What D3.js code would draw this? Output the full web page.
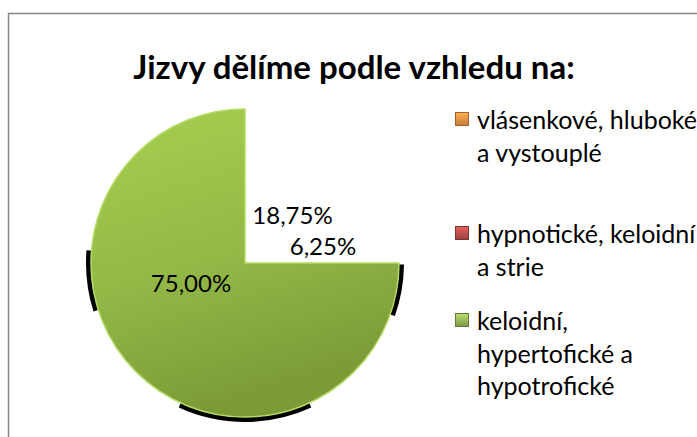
<!DOCTYPE html>
<html>
<head>
<meta charset="utf-8">
<script src="https://cdn.jsdelivr.net/npm/d3@7"></script>
<style>
  body { margin: 0; background: #fff; }
  svg { display: block; font-family: Lato, "Open Sans", sans-serif; }
</style>
</head>
<body>
<div id="chart"></div>
<script>
// data
const title = 'Jizvy dělíme podle vzhledu na:';
const categories = ['vlásenkové, hluboké a vystouplé', 'hypnotické, keloidní a strie', 'keloidní, hypertofické a hypotrofické'];
const legendLines = [['vlásenkové, hluboké', 'a vystouplé'], ['hypnotické, keloidní', 'a strie'], ['keloidní,', 'hypertofické a', 'hypotrofické']];
const values = [18.75, 6.25, 75.00];
const colors = ['#f79646', '#c0504d', '#9bbb59'];
// only the green slice shows up in the picture
const visible = [false, false, true];

// dimensions
const dim = { width: 697, height: 437 };
const pieCenter = { x: 245, y: 263 };
const radius = 154;

const svg = d3.select('#chart')
    .append('svg')
    .attr('width', dim.width)
    .attr('height', dim.height);

const defs = svg.append('defs');

const green = defs.append('linearGradient')
    .attr('id', 'green')
    .attr('x1', 0).attr('y1', 0).attr('x2', 0.3).attr('y2', 1);
green.append('stop').attr('offset', '0%').attr('stop-color', '#a6d04f');
green.append('stop').attr('offset', '55%').attr('stop-color', '#93b947');
green.append('stop').attr('offset', '100%').attr('stop-color', '#7c9b37');

const markerGrads = colors.map((c, i) => {
    const g = defs.append('linearGradient')
        .attr('id', 'mk' + i)
        .attr('x1', 0).attr('y1', 0).attr('x2', 0).attr('y2', 1);
    g.append('stop').attr('offset', '0%').attr('stop-color', d3.color(c).brighter(0.5));
    g.append('stop').attr('offset', '100%').attr('stop-color', d3.color(c).darker(0.6));
    return 'url(#mk' + i + ')';
});

// frame
svg.append('rect')
    .attr('x', 8.5).attr('y', 13.5)
    .attr('width', 720).attr('height', 460)
    .attr('fill', '#fff')
    .attr('stroke', '#878787')
    .attr('stroke-width', 1.5);

// title
svg.append('text')
    .attr('x', 354).attr('y', 79)
    .attr('text-anchor', 'middle')
    .attr('font-weight', 'bold')
    .attr('font-size', 33)
    .attr('fill', '#000')
    .text(title);

// pie
const pie = d3.pie().sort(null).value(d => d);
const arcs = pie(values);
const arc = d3.arc().innerRadius(0).outerRadius(radius);

const g = svg.append('g')
    .attr('transform', `translate(${pieCenter.x}, ${pieCenter.y})`);

// dark shadow fragments peeking out from behind the pie
const shadowArc = d3.arc().innerRadius(radius - 2).outerRadius(radius + 5);
const greenArc = arcs[2];
const shadowPieces = [
    [greenArc.endAngle - 1.88, greenArc.endAngle - 1.49],   // left
    [greenArc.startAngle + 0.01, greenArc.startAngle + 0.34], // right
    [Math.PI - 0.43, Math.PI + 0.43]                        // bottom
];
g.selectAll('path.shadow')
    .data(shadowPieces)
    .join('path')
    .attr('class', 'shadow')
    .attr('fill', '#000')
    .attr('d', d => shadowArc({ startAngle: d[0], endAngle: d[1] }));

g.selectAll('path.slice')
    .data(arcs)
    .join('path')
    .attr('class', 'slice')
    .attr('d', arc)
    .attr('fill', (d, i) => visible[i] ? 'url(#green)' : 'none')
    .attr('stroke', (d, i) => visible[i] ? '#b5da66' : 'none')
    .attr('stroke-width', 1.5);

// data labels
const fmt = v => v.toFixed(2).replace('.', ',') + '%';
const labelArc = d3.arc().innerRadius(radius * 0.45).outerRadius(radius * 0.45);
const labelNudge = [[9, 9], [10, -4], [-5, -30]];
g.selectAll('text.lbl')
    .data(arcs)
    .join('text')
    .attr('class', 'lbl')
    .attr('x', (d, i) => labelArc.centroid(d)[0] + labelNudge[i][0])
    .attr('y', (d, i) => labelArc.centroid(d)[1] + labelNudge[i][1])
    .attr('text-anchor', 'middle')
    .attr('dominant-baseline', 'central')
    .attr('font-size', 24)
    .attr('fill', '#000')
    .text(d => fmt(d.data));

// legend
const legend = svg.append('g')
    .attr('transform', 'translate(455, 0)');
const legendY = [119, 233, 320];
const lineH = 32.5;
const items = legend.selectAll('g')
    .data(categories)
    .join('g')
    .attr('transform', (d, i) => `translate(0, ${legendY[i]})`);

items.append('rect')
    .attr('x', 0.5).attr('y', -6.5)
    .attr('width', 13).attr('height', 13)
    .attr('fill', (d, i) => markerGrads[i])
    .attr('stroke', (d, i) => d3.color(colors[i]).darker(1.2))
    .attr('stroke-width', 1);

items.append('text')
    .attr('x', 22)
    .attr('font-size', 25)
    .attr('fill', '#000')
    .selectAll('tspan')
    .data((d, i) => legendLines[i])
    .join('tspan')
    .attr('x', 22)
    .attr('y', (d, j) => j * lineH)
    .attr('dominant-baseline', 'central')
    .text(d => d);
</script>
</body>
</html>
